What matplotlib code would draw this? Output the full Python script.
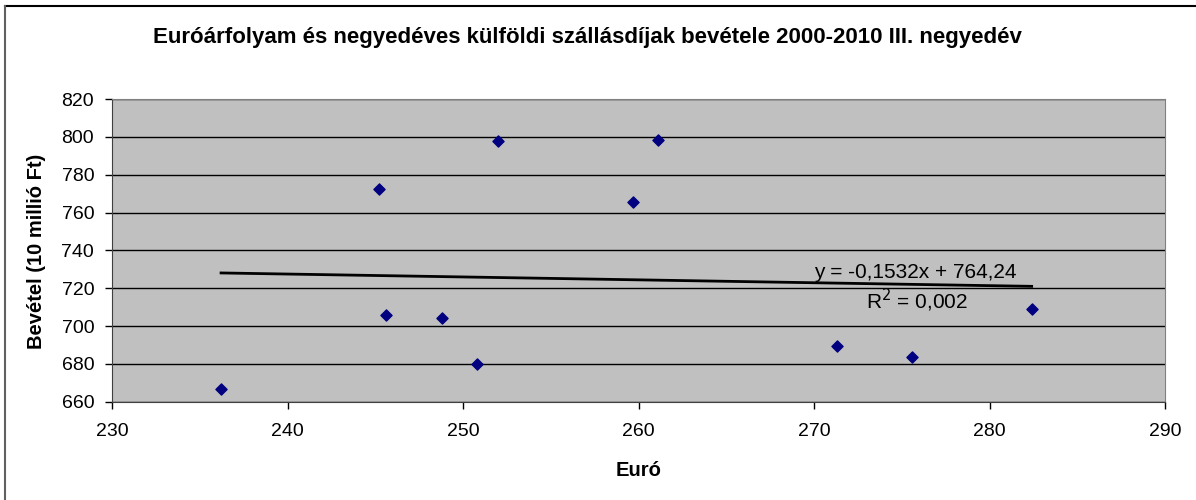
import matplotlib
matplotlib.use("Agg")
import matplotlib.pyplot as plt
from matplotlib.lines import Line2D
import numpy as np

plt.rcParams['font.family'] = ['Liberation Sans', 'DejaVu Sans']

title = "Euróárfolyam és negyedéves külföldi szállásdíjak bevétele 2000-2010 III. negyedév"
x_label = "Euró"
y_label = "Bevétel (10 millió Ft)"
euro = [236.2, 245.2, 245.6, 248.8, 250.8, 252.0, 261.1, 259.7, 271.3, 275.6, 282.4]
bevetel = [666.7, 772.3, 705.7, 704.4, 679.8, 797.6, 798.2, 765.6, 689.6, 683.5, 708.9]
slope = -0.1532
intercept = 764.24
eq_text = "y = -0,1532x + 764,24"
r2_text = "0,002"
x_ticks = [230, 240, 250, 260, 270, 280, 290]
y_ticks = [660, 680, 700, 720, 740, 760, 780, 800, 820]

W, H = 1196, 500
fig = plt.figure(figsize=(W/100, H/100), dpi=100)
L, R, T, B = 112.3, 1165, 99, 401.7
ax = fig.add_axes([L/W, 1-B/H, (R-L)/W, (B-T)/H])
ax.set_facecolor('#C0C0C0')
ax.set_xlim(230, 290)
ax.set_ylim(660, 820)
ax.set_xticks(x_ticks)
ax.set_yticks(y_ticks)
ax.tick_params(axis='both', direction='out', length=5, width=1, labelsize=14, colors='black')
ax.tick_params(axis='x', pad=10)
ax.tick_params(axis='y', pad=8)
ax.grid(axis='y', color='black', linewidth=1)
ax.set_axisbelow(True)
for s in ['top', 'right']:
    ax.spines[s].set_color('#808080')
for s in ['left', 'bottom']:
    ax.spines[s].set_color('#404040')

ax.scatter(euro, bevetel, marker='D', s=32, color='#000080', zorder=3)

xs = np.array([min(euro), max(euro)])
ax.plot(xs, slope*xs + intercept, color='black', linewidth=2, zorder=2)

def px2data(px, py):
    return 230 + (px-L)/(R-L)*60, 820 - (py-T)/(B-T)*160

ex, ey = px2data(915.5, 278.3)
ax.text(ex, ey, eq_text, ha='center', va='baseline', fontsize=15, zorder=4)
rx, ry = px2data(916.7, 308.3)
ax.text(rx, ry, "R$^2$ = " + r2_text, ha='center', va='baseline', fontsize=15, zorder=4)

fig.text(638.5/W, 1-476/H, x_label, ha='center', va='baseline', fontsize=14.5, fontweight='bold')
fig.text(37/W, 1-251/H, y_label, ha='center', va='center', rotation=90, fontsize=14.5, fontweight='bold')
fig.text(587.5/W, 1-42.7/H, title, ha='center', va='baseline', fontsize=16, fontweight='bold')

fig.lines.append(Line2D([4.5/W, 1], [1-6/H, 1-6/H], transform=fig.transFigure, color='black', linewidth=1.5))
fig.lines.append(Line2D([4.5/W, 4.5/W], [0, 1-6/H], transform=fig.transFigure, color='#606060', linewidth=1.5))

fig.savefig('out.png', dpi=100)
